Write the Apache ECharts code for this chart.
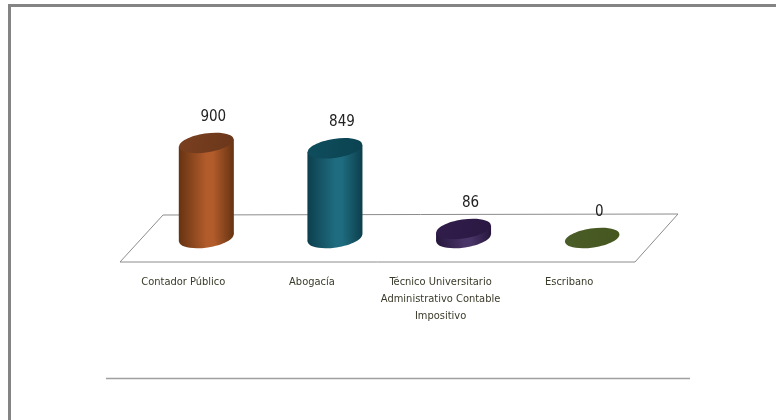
<!DOCTYPE html>
<html>
<head>
<meta charset="utf-8">
<script src="https://cdn.jsdelivr.net/npm/echarts@6/dist/echarts.min.js"></script>
<style>html,body{margin:0;padding:0;background:#fff}#c{width:776px;height:420px}</style>
</head>
<body>
<div id="c"></div>
<script>
var categories = ['Contador Público', 'Abogacía', 'Técnico Universitario\nAdministrativo Contable\nImpositivo', 'Escribano'];
var values = [900, 849, 86, 0];

var FONT = "'Liberation Sans Narrow', 'DejaVu Sans Condensed', 'Arial Narrow', sans-serif";

var palette = [
  {edge: '#663312', mid: '#B35C2B', top: '#7A4020', top2: '#6A361A'},
  {edge: '#0C3F4D', mid: '#1F6C80', top: '#0F4E5E', top2: '#0B4250'},
  {edge: '#26163D', mid: '#4A3568', top: '#311D4B', top2: '#2A1842'},
  {edge: '#41531F', mid: '#566A30', top: '#4B5D28', top2: '#45561F'}
];

function bodyGrad(p) {
  return new echarts.graphic.LinearGradient(0, 0, 1, 0, [
    {offset: 0, color: p.edge},
    {offset: 0.5, color: p.mid},
    {offset: 0.62, color: p.mid},
    {offset: 1, color: p.edge}
  ]);
}

var chart = echarts.init(document.getElementById('c'));
var rot = 0.15;

function renderItem(params, api) {
  var i = params.dataIndex;
  var p = palette[i];
  var base = api.coord([api.value(0), 0]);
  var top = api.coord([api.value(0), api.value(1)]);
  var bw = api.size([1, 0])[0] * 0.428;
  var rx = bw / 2, ry = 9.5;
  var cx = base[0];
  var d = rx * Math.sin(rot) - ry * ry * Math.sin(rot) / rx;
  var children = [];
  var h = base[1] - top[1];
  if (h > 0.5) {
    children.push({
      type: 'ellipse', x: cx, y: base[1], rotation: rot,
      shape: {cx: 0, cy: 0, rx: rx, ry: ry},
      style: {fill: bodyGrad(p)}
    });
    children.push({
      type: 'polygon',
      shape: {points: [
        [cx - rx, top[1] + d], [cx + rx, top[1] - d],
        [cx + rx, base[1] - d], [cx - rx, base[1] + d]
      ]},
      style: {fill: bodyGrad(p)}
    });
  }
  children.push({
    type: 'ellipse', x: cx, y: top[1], rotation: rot,
    shape: {cx: 0, cy: 0, rx: rx, ry: ry},
    style: {fill: new echarts.graphic.LinearGradient(0, 0, 1, 1, [
      {offset: 0, color: p.top}, {offset: 1, color: p.top2}
    ])}
  });
  children.push({
    type: 'text',
    style: {
      text: String(api.value(1)), x: cx + 7, y: top[1] - 26,
      align: 'center', verticalAlign: 'middle',
      fontFamily: FONT, fontSize: 15, fill: '#222'
    }
  });
  return {type: 'group', children: children};
}

var option = {
  backgroundColor: '#ffffff',
  animation: false,
  grid: [
    {left: 142, width: 514.5, top: 132.4, bottom: 182, containLabel: false},
    {left: 119, width: 514.5, top: 132.4, bottom: 182, containLabel: false}
  ],
  xAxis: [
    {type: 'category', data: categories, gridIndex: 0, show: false},
    {type: 'category', data: categories, gridIndex: 1,
     axisLine: {show: false}, axisTick: {show: false},
     axisLabel: {interval: 0, margin: 36, fontFamily: FONT, fontSize: 11,
       color: '#3a3a2a', lineHeight: 17, align: 'center'}}
  ],
  yAxis: [
    {type: 'value', min: 0, max: 1000, gridIndex: 0, show: false},
    {type: 'value', min: 0, max: 1000, gridIndex: 1, show: false}
  ],
  graphic: {elements: [
    {type: 'polygon', z: 0, shape: {points: [[120, 262], [163, 215], [678, 214], [635, 262]]},
     style: {fill: 'none', stroke: '#8c8c8c', lineWidth: 1}},
    {type: 'line', z: 0, shape: {x1: 106, y1: 378.5, x2: 690, y2: 378.5},
     style: {stroke: '#a0a0a0', lineWidth: 1.5}},
    {type: 'line', z: 0, shape: {x1: 8, y1: 5.5, x2: 776, y2: 5.5},
     style: {stroke: '#848484', lineWidth: 3}},
    {type: 'line', z: 0, shape: {x1: 9.5, y1: 4, x2: 9.5, y2: 420},
     style: {stroke: '#848484', lineWidth: 3}}
  ]},
  series: [{
    type: 'custom', xAxisIndex: 0, yAxisIndex: 0, z: 5,
    renderItem: renderItem,
    data: values.map(function (v, i) { return [i, v]; })
  }]
};
chart.setOption(option);
</script>
</body>
</html>
